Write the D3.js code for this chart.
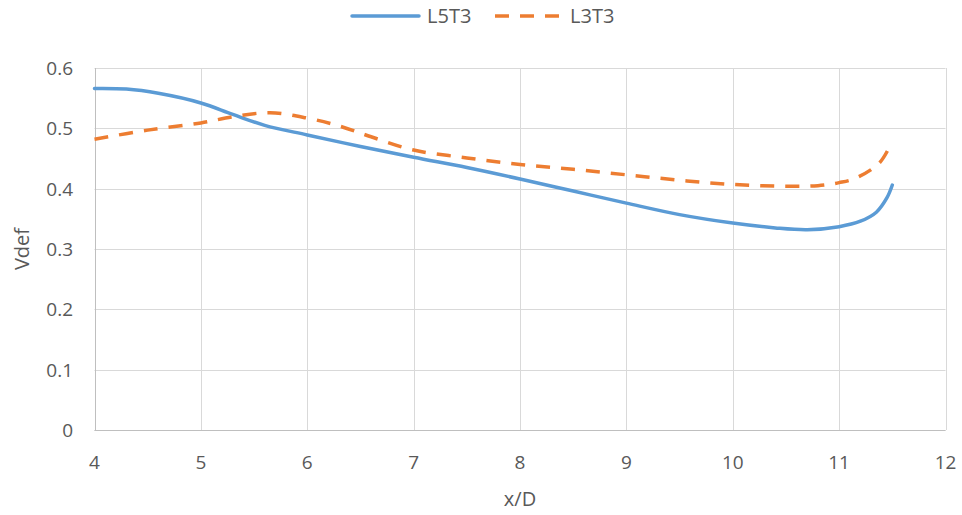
<!DOCTYPE html>
<html><head><meta charset="utf-8">
<script src="https://cdn.jsdelivr.net/npm/d3@7"></script>
<style>body{margin:0;background:#fff}svg{display:block}text{font-family:"Open Sans","Noto Sans",sans-serif;fill:#595959}</style>
</head><body><svg id="c" width="962" height="515"></svg>
<script>
const xTicks=[4,5,6,7,8,9,10,11,12];
const yTicks=[0,0.1,0.2,0.3,0.4,0.5,0.6];
const xL5T3=[4,4.3,4.6,5,5.3,5.6,6,6.5,7,7.5,8,8.5,9,9.5,10,10.4,10.7,11,11.2,11.35,11.45,11.5];
const yL5T3=[0.566,0.565,0.558,0.542,0.523,0.505,0.489,0.47,0.452,0.435,0.416,0.396,0.376,0.357,0.343,0.335,0.332,0.337,0.346,0.361,0.385,0.406];
const xL3T3=[4,4.5,5,5.3,5.65,6,6.3,6.6,7,7.5,8,8.5,9,9.5,10,10.5,10.8,11,11.15,11.38,11.5];
const yL3T3=[0.482,0.497,0.509,0.519,0.526,0.517,0.504,0.486,0.464,0.451,0.44,0.432,0.423,0.414,0.407,0.404,0.405,0.41,0.417,0.443,0.479];
const series=[{name:"L5T3",xs:xL5T3,ys:yL5T3,color:"#5B9BD5",dash:null},{name:"L3T3",xs:xL3T3,ys:yL3T3,color:"#ED7D31",dash:"14,11"}];
const svg=d3.select("#c");
const L=94.5,R=945.5,T=68,B=430;
const x=d3.scaleLinear().domain([4,12]).range([L,R]);
const y=d3.scaleLinear().domain([0,0.6]).range([B,T]);
const g=svg.append("g");
g.selectAll(".hg").data(yTicks).join("line").attr("x1",L).attr("x2",R).attr("y1",d=>Math.round(y(d))+0.5).attr("y2",d=>Math.round(y(d))+0.5).attr("stroke","#d9d9d9").attr("stroke-width",1);
g.selectAll(".vg").data(xTicks).join("line").attr("y1",T).attr("y2",B).attr("x1",d=>Math.round(x(d))+0.5).attr("x2",d=>Math.round(x(d))+0.5).attr("stroke","#d9d9d9").attr("stroke-width",1);
g.append("line").attr("x1",L).attr("x2",R).attr("y1",Math.round(B)+0.5).attr("y2",Math.round(B)+0.5).attr("stroke","#bfbfbf");
g.append("line").attr("x1",Math.round(L)+0.5).attr("x2",Math.round(L)+0.5).attr("y1",T).attr("y2",B).attr("stroke","#bfbfbf");
svg.selectAll(".yt").data(yTicks).join("text").attr("x",73).attr("y",d=>y(d)+7).attr("text-anchor","end").attr("font-size",19).text(d=>d3.format("")(d));
svg.selectAll(".xt").data(xTicks).join("text").attr("x",d=>x(d)).attr("y",469).attr("text-anchor","middle").attr("font-size",19).text(d=>d);
svg.append("text").attr("transform","translate(29,"+((T+B)/2)+") rotate(-90)").attr("text-anchor","middle").attr("font-size",20).text("Vdef");
svg.append("text").attr("x",520).attr("y",506).attr("text-anchor","middle").attr("font-size",20).text("x/D");
const line=d3.line().x(d=>x(d[0])).y(d=>y(d[1])).curve(d3.curveCatmullRom.alpha(0.5));
series.forEach(s=>{
  const pts=s.xs.map((v,i)=>[v,s.ys[i]]);
  svg.append("path").attr("d",line(pts)).attr("fill","none").attr("stroke",s.color).attr("stroke-width",3.5).attr("stroke-dasharray",s.dash).attr("stroke-linecap",s.dash?"butt":"round");
});
const leg=[{x:352,s:series[0]},{x:495,s:series[1]}];
leg.forEach(l=>{
  svg.append("line").attr("x1",l.x).attr("x2",l.x+67).attr("y1",16).attr("y2",16).attr("stroke",l.s.color).attr("stroke-width",3.5).attr("stroke-dasharray",l.s.dash).attr("stroke-linecap",l.s.dash?"butt":"round");
  svg.append("text").attr("x",l.x+75).attr("y",23).attr("font-size",20).text(l.s.name);
});
</script></body></html>
